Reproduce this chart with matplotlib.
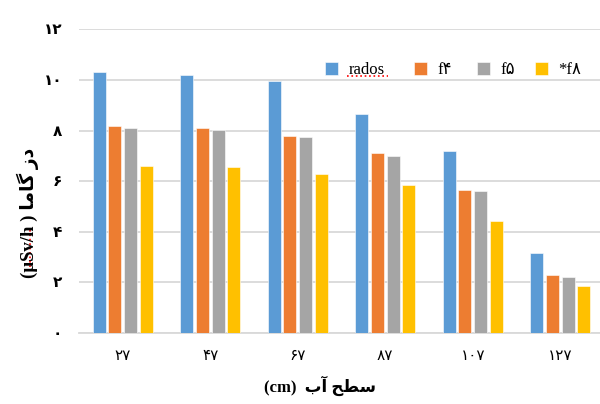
import numpy as np
import matplotlib.pyplot as plt
from matplotlib.lines import Line2D

plt.rcParams['font.family'] = ['Liberation Serif', 'DejaVu Sans']

# water level (cm) and gamma dose per detector / simulation
levels = ['۲۷', '۴۷', '۶۷', '۸۷', '۱۰۷', '۱۲۷']
rados = [10.33, 10.18, 9.95, 8.66, 7.2, 3.15]
f4 = [8.18, 8.11, 7.77, 7.11, 5.65, 2.29]
f5 = [8.11, 8.01, 7.75, 7.0, 5.62, 2.23]
f8 = [6.6, 6.55, 6.28, 5.84, 4.41, 1.87]

series = [rados, f4, f5, f8]
names = ['rados', 'f۴', 'f۵', '*f۸']
colors = ['#5B9BD5', '#ED7D31', '#A5A5A5', '#FFC000']

yticks = [0, 2, 4, 6, 8, 10, 12]
ytick_labels = ['۰', '۲', '۴', '۶', '۸', '۱۰', '۱۲']

fig = plt.figure(figsize=(6, 4.04), dpi=100)
ax = fig.add_axes([79 / 600, 1 - 333 / 404, 525 / 600, (333 - 29.4) / 404])

x = np.arange(len(levels))
step = 0.18
bars = []
for i, (vals, c, n) in enumerate(zip(series, colors, names)):
    b = ax.bar(x + (i - 1.5) * step, vals, width=0.15, color=c, label=n,
               zorder=3, edgecolor='white', linewidth=0.4)
    bars.append(b)

ax.set_xlim(-0.5, len(levels) - 0.5)
ax.set_ylim(0, 12)
ax.set_yticks(yticks)
ax.set_yticklabels(ytick_labels, fontsize=11, fontweight='bold')
ax.set_xticks(x)
ax.set_xticklabels(levels, fontsize=11)
ax.tick_params(axis='y', length=0, pad=12)
ax.tick_params(axis='x', length=0, pad=12)
ax.grid(axis='y', color='#d9d9d9', linewidth=1.3, zorder=0)
for s in ['top', 'right', 'left']:
    ax.spines[s].set_visible(False)
ax.spines['bottom'].set_color('#d9d9d9')
ax.spines['bottom'].set_linewidth(1.3)

# Persian labels written in visual order with presentation forms
xlabel = '(cm)  ' + '\uFE8F\uFE81 \uFEA2\uFEC4\uFEB3'
ylabel = '(µSv/h ) ' + '\uFE8E\uFEE3\uFE8E\uFB94 \uFEAF\uFEA9'
fig.text(320 / 600, 1 - 386 / 404, xlabel, ha='center', va='center',
         fontsize=12, fontweight='bold')
fig.text(28 / 600, 1 - 213 / 404, ylabel, ha='center', va='center',
         rotation=90, fontsize=13.5, fontweight='bold')

# one legend per series so each key sits where it should
key_x = [325, 414, 477, 535]
for b, n, kx in zip(bars, names, key_x):
    leg = fig.legend([b], [n], loc='center left',
                     bbox_to_anchor=(kx / 600, 1 - 70 / 404),
                     frameon=False, fontsize=12, handlelength=0.8,
                     handleheight=0.8, handletextpad=0.6,
                     borderpad=0, borderaxespad=0)

# red spell-check squiggles under "rados" and "µSv"
fig.add_artist(Line2D([347 / 600, 388 / 600], [1 - 76 / 404] * 2,
                      color='red', linestyle=':', linewidth=1.2))
fig.add_artist(Line2D([30 / 600] * 2, [1 - 230 / 404, 1 - 268 / 404],
                      color='red', linestyle=':', linewidth=1.2))

fig.savefig('out.png', dpi=100)
